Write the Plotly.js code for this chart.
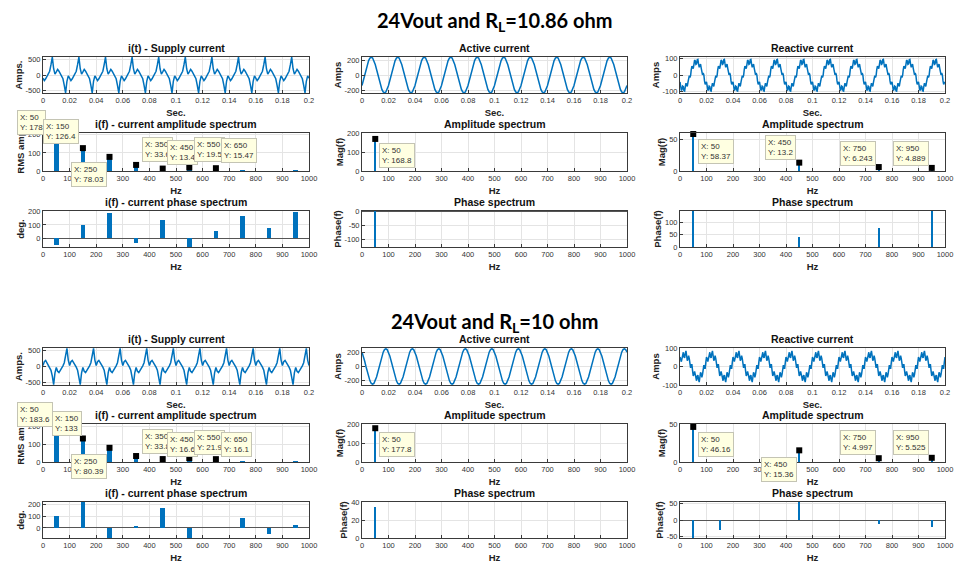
<!DOCTYPE html>
<html><head><meta charset="utf-8">
<script src="https://cdn.plot.ly/plotly-3.0.1.min.js"></script>
<style>html,body{margin:0;padding:0;background:#fff;}#chart{width:957px;height:563px;}</style>
</head><body><div id="chart"></div>
<script>
// ---------------- data ----------------
const harmonics = [50,150,250,350,450,550,650,750,850,950];
const timeTicks = [0,0.02,0.04,0.06,0.08,0.1,0.12,0.14,0.16,0.18,0.2];
const timeTickText = ['0','0.02','0.04','0.06','0.08','0.1','0.12','0.14','0.16','0.18','0.2'];
const freqTicks = [0,100,200,300,400,500,600,700,800,900,1000];
const nCycles = 10;

// Group A : 24Vout and RL = 10.86 ohm  (one 20 ms period)
const supplyCycleA = [-100,-180,-120,-20,60,120,330,570,200,30,100,180,120,20,-60,-120,-330,-570,-200,-30]; // 1 ms steps
const activeCycleA = [-140,-74,0,74,140,193,226,238,226,193,140,74,0,-74,-140,-193,-226,-238,-226,-193];      // 1 ms steps
const reactiveCycleA = [-40,-64,-91,-87,-66,-69,-93,-95,-68,-48,-58,-67,-43,-9,-2,-13,-2,34,55,46,
                        40,64,91,87,66,69,93,95,68,48,58,67,43,9,2,13,2,-34,-55,-46];                        // 0.5 ms steps
const supplyAmpA   = [178,126.4,78.03,33.6,13.4,19.5,15.47,5,1,4];
const supplyPhaseA = [-55,100,190,-40,140,-67,55,170,80,195];
const activeFreq   = [50];
const activeAmpA   = [168.8];
const activePhaseA = [-128];
const reactiveFreq = [50,450,750,950];
const reactiveAmpA = [58.37,13.2,6.243,4.889];
const reactivePhaseA = [145,40,78,145];

// Group B : 24Vout and RL = 10 ohm
const supplyCycleB = [30,150,190,120,60,-20,-120,-300,-570,-200,-30,-150,-190,-120,-60,20,120,300,570,200];
const activeCycleB = [203,148,78,0,-78,-148,-203,-239,-251,-239,-203,-148,-78,0,78,148,203,239,251,239];
const reactiveCycleB = [51,42,26,43,76,77,52,46,71,84,58,31,40,58,42,5,-7,10,10,-24,
                        -51,-42,-26,-43,-76,-77,-52,-46,-71,-84,-58,-31,-40,-58,-42,-5,7,-10,-10,24];
const supplyAmpB   = [183.6,133,80.39,33.8,16.6,21.9,16.1,5,2,4];
const supplyPhaseB = [104,220,-85,20,166,-85,3,87,-48,28];
const activeAmpB   = [177.8];
const activePhaseB = [34];
const reactiveAmpB = [46.16,15.36,4.997,5.525];
const reactivePhaseFreqB = [50,150,450,750,950];
const reactivePhaseB = [-55,-30,55,-13,-20];

// ---------------- layout helpers ----------------
const W = 957, H = 563;
const BLUE = '#0072BD';
const FONT = 'Liberation Sans, Arial, sans-serif';
const cols = [[43,309],[362,627],[680,945]];
const rowsPx = [[[57,93],[133,171],[211,247]], [[348,385],[424,462],[502,538]]];

function tile(cycle, dt){
  const x=[], y=[];
  for(let c=0;c<nCycles;c++) for(let k=0;k<cycle.length;k++){
    x.push(+(((c*cycle.length)+k)*dt).toFixed(6)); y.push(cycle[k]);
  }
  x.push(+(nCycles*cycle.length*dt).toFixed(6)); y.push(cycle[0]);
  return {x,y};
}
function tt(v){ return v.map(n => String(n)); }

const groups = [
  {supply:supplyCycleA, active:activeCycleA, reactive:reactiveCycleA,
   sAmp:supplyAmpA, sPh:supplyPhaseA, aAmp:activeAmpA, aPh:activePhaseA,
   rAmp:reactiveAmpA, rPhF:reactiveFreq, rPh:reactivePhaseA,
   yr:[[-573,573],[-240,240],[-107,110],[0,210],[0,200],[0,60],[-67,205],[-128,0],[0,145]],
   yv:[[-500,0,500],[-200,0,200],[-100,0,100],[0,100,200],[0,100,200],[0,50],[0,100,200],[-100,-50,0],[0,50,100]],
   tipsS:[[17,110],[43,119],[71,162],[142,137],[167,140],[194,137],[221,138]],
   tipA:[379,143],
   tipsR:[[698,139],[765,135],[840,141],[893,141]],
   title:'<b>24Vout and R<sub>L</sub>=10.86 ohm</b>', titleY:22},
  {supply:supplyCycleB, active:activeCycleB, reactive:reactiveCycleB,
   sAmp:supplyAmpB, sPh:supplyPhaseB, aAmp:activeAmpB, aPh:activePhaseB,
   rAmp:reactiveAmpB, rPhF:reactivePhaseFreqB, rPh:reactivePhaseB,
   yr:[[-580,580],[-262,262],[-100,100],[0,215],[0,200],[0,50],[-85,220],[0,40],[-55,55]],
   yv:[[-500,0,500],[-200,0,200],[-100,0,100],[0,100,200],[0,100,200],[0,50],[0,100,200],[0,20,40],[-50,0,50]],
   tipsS:[[17,402],[52,411],[71,454],[142,429],[167,432],[194,430],[221,432]],
   tipA:[379,432],
   tipsR:[[698,432],[761,457],[840,430],[893,430]],
   title:'<b>24Vout and R<sub>L</sub>=10 ohm</b>', titleY:322}
];
const panelTitles = ['i(t) - Supply current','Active current','Reactive current',
  'i(f) - current amplitude spectrum','Amplitude spectrum','Amplitude spectrum',
  'i(f) - current phase spectrum','Phase spectrum','Phase spectrum'];
const yTitles = ['Amps.','Amps','Amps','RMS amp','Mag(f)','Mag(f)','deg.','Phase(f)','Phase(f)'];

const traces = [], annotations = [], layout = {
  width:W, height:H, margin:{l:0,r:0,t:0,b:0}, showlegend:false,
  paper_bgcolor:'#fff', plot_bgcolor:'#fff', bargap:0
};

function axisCommon(){
  return {showgrid:true, gridcolor:'#e4e4e4', gridwidth:1, zeroline:false,
    showline:true, mirror:true, linecolor:'#3a3a3a', linewidth:1,
    ticks:'inside', ticklen:3, tickcolor:'#3a3a3a', fixedrange:true,
    tickfont:{family:FONT, size:7.5, color:'#333'}};
}
function tip(xpx, ypx, xv, yv){
  annotations.push({xref:'paper', yref:'paper', x:xpx/W, y:1-ypx/H, xanchor:'left', yanchor:'top',
    text:'X: '+xv+'<br>Y: '+yv, align:'left', showarrow:false,
    font:{family:FONT, size:8, color:'#333'}, bgcolor:'#ffffe1', bordercolor:'#c4c4b4', borderwidth:1, borderpad:2});
}

let idx = 0;
groups.forEach((g, gi) => {
  annotations.push({xref:'paper', yref:'paper', x:495/W, y:1-g.titleY/H, xanchor:'center', yanchor:'middle',
    text:g.title, showarrow:false, font:{family:'Lato, Open Sans, sans-serif', size:20, color:'#000'}});
  for(let p=0;p<9;p++){
    idx++;
    const r = Math.floor(p/3), c = p%3;
    const xa = 'xaxis'+(idx===1?'':idx), ya = 'yaxis'+(idx===1?'':idx);
    const xs = 'x'+(idx===1?'':idx), ys = 'y'+(idx===1?'':idx);
    const [top,bot] = rowsPx[gi][r];
    const [lft,rgt] = cols[c];
    const isTime = r===0;
    const X = axisCommon();
    X.domain = [lft/W, rgt/W]; X.anchor = ys;
    if(isTime){ X.range=[0,0.2]; X.tickvals=timeTicks; X.ticktext=timeTickText; }
    else { X.range=[0,1000]; X.tickvals=freqTicks; X.ticktext=tt(freqTicks); }
    X.title = {text:'<b>'+(isTime?'Sec.':'Hz')+'</b>', font:{family:FONT, size:9.5, color:'#222'}, standoff:5};
    const Y = axisCommon();
    Y.domain = [1-bot/H, 1-top/H]; Y.anchor = xs;
    Y.range = g.yr[p]; Y.tickvals = g.yv[p]; Y.ticktext = tt(g.yv[p]);
    if(!isTime){ Y.zeroline = true; Y.zerolinecolor = '#555'; Y.zerolinewidth = 1; }
    Y.title = {text:'<b>'+yTitles[p]+'</b>', font:{family:FONT, size:9.5, color:'#222'}, standoff:1};
    layout[xa] = X; layout[ya] = Y;
    annotations.push({xref:'paper', yref:'paper', x:((lft+rgt)/2)/W, y:1-(top-1)/H, xanchor:'center', yanchor:'bottom',
      text:'<b>'+panelTitles[p]+'</b>', showarrow:false, font:{family:FONT, size:10.5, color:'#111'}});

    // marks
    if(p<3){
      const src = p===0?g.supply:(p===1?g.active:g.reactive);
      const d = tile(src, p===2?0.0005:0.001);
      traces.push({type:'scatter', mode:'lines', x:d.x, y:d.y, xaxis:xs, yaxis:ys,
        line:{color:BLUE, width:1.5}, hoverinfo:'skip'});
    } else if(p===3){
      traces.push({type:'bar', x:harmonics, y:g.sAmp, width:18, xaxis:xs, yaxis:ys, marker:{color:BLUE, line:{width:0}}});
      const tx = harmonics.slice(0,7), ty = g.sAmp.slice(0,7);
      traces.push({type:'scatter', mode:'markers', x:tx, y:ty, xaxis:xs, yaxis:ys, cliponaxis:false,
        marker:{symbol:'square', size:6, color:'#000'}});
      tx.forEach((v,i)=>tip(g.tipsS[i][0], g.tipsS[i][1], v, ty[i]));
    } else if(p===4){
      traces.push({type:'bar', x:activeFreq, y:g.aAmp, width:7, xaxis:xs, yaxis:ys, marker:{color:BLUE, line:{width:0}}});
      traces.push({type:'scatter', mode:'markers', x:activeFreq, y:g.aAmp, xaxis:xs, yaxis:ys, cliponaxis:false,
        marker:{symbol:'square', size:6, color:'#000'}});
      tip(g.tipA[0], g.tipA[1], activeFreq[0], g.aAmp[0]);
    } else if(p===5){
      traces.push({type:'bar', x:reactiveFreq, y:g.rAmp, width:8, xaxis:xs, yaxis:ys, marker:{color:BLUE, line:{width:0}}});
      traces.push({type:'scatter', mode:'markers', x:reactiveFreq, y:g.rAmp, xaxis:xs, yaxis:ys, cliponaxis:false,
        marker:{symbol:'square', size:6, color:'#000'}});
      reactiveFreq.forEach((v,i)=>tip(g.tipsR[i][0], g.tipsR[i][1], v, g.rAmp[i]));
    } else if(p===6){
      traces.push({type:'bar', x:harmonics, y:g.sPh, width:18, xaxis:xs, yaxis:ys, marker:{color:BLUE, line:{width:0}}});
    } else if(p===7){
      traces.push({type:'bar', x:activeFreq, y:g.aPh, width:7, xaxis:xs, yaxis:ys, marker:{color:BLUE, line:{width:0}}});
    } else {
      traces.push({type:'bar', x:g.rPhF, y:g.rPh, width:8, xaxis:xs, yaxis:ys, marker:{color:BLUE, line:{width:0}}});
    }
  }
});
layout.annotations = annotations;
Plotly.newPlot('chart', traces, layout, {displayModeBar:false, staticPlot:true});
</script></body></html>
